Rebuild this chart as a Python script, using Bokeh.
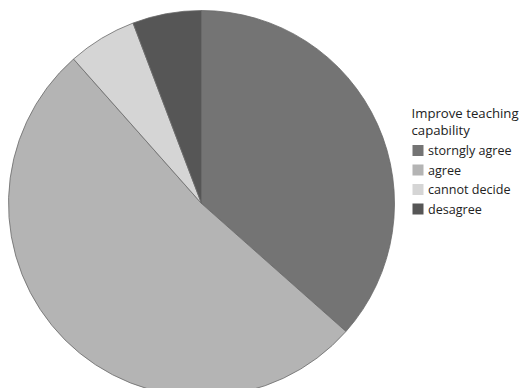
import math
from bokeh.plotting import figure
from bokeh.models import Range1d, ColumnDataSource
from bokeh.core.properties import value
from bokeh.embed import file_html
from bokeh.resources import INLINE

categories = ["storngly agree", "agree", "cannot decide", "desagree"]
counts = [19, 27, 3, 3]
colors = ["#747474", "#b4b4b4", "#d5d5d5", "#565656"]
legend_title = ["Improve teaching", "capability"]

W, H = 526, 388
p = figure(width=W, height=H, output_backend="svg", toolbar_location=None,
           x_range=Range1d(0, W), y_range=Range1d(0, H), min_border=0)
p.axis.visible = False
p.grid.visible = False
p.outline_line_color = None

total = sum(counts)
starts, ends = [], []
acc = 0.0
for c in counts:
    a0 = math.pi / 2 - 2 * math.pi * acc / total
    acc += c
    a1 = math.pi / 2 - 2 * math.pi * acc / total
    starts.append(a0)
    ends.append(a1)

src = ColumnDataSource(dict(start=starts, end=ends, color=colors, cat=categories))
cx, cy, r = 201, H - 203, 193
p.wedge(x=cx, y=cy, radius=r, radius_units="screen", start_angle="start", end_angle="end",
        direction="clock", fill_color="color", line_color="#6a6a6a", line_width=0.8, source=src)

font = value("Open Sans")
# legend title
for i, t in enumerate(legend_title):
    p.text(x=[411], y=[H - 112.5 - i * 16.5], text=[t], text_font=font, text_font_size="13.2px",
           text_color="#222222", text_baseline="middle")
for i, (cat, col) in enumerate(zip(categories, colors)):
    yy = H - 150 - i * 19.5
    p.rect(x=[417.5], y=[yy], width=11, height=11, fill_color=col, line_color=None)
    p.text(x=[427.5], y=[yy], text=[cat], text_font=font, text_font_size="12.6px",
           text_color="#222222", text_baseline="middle")

open("out.html", "w").write(file_html(p, INLINE))
